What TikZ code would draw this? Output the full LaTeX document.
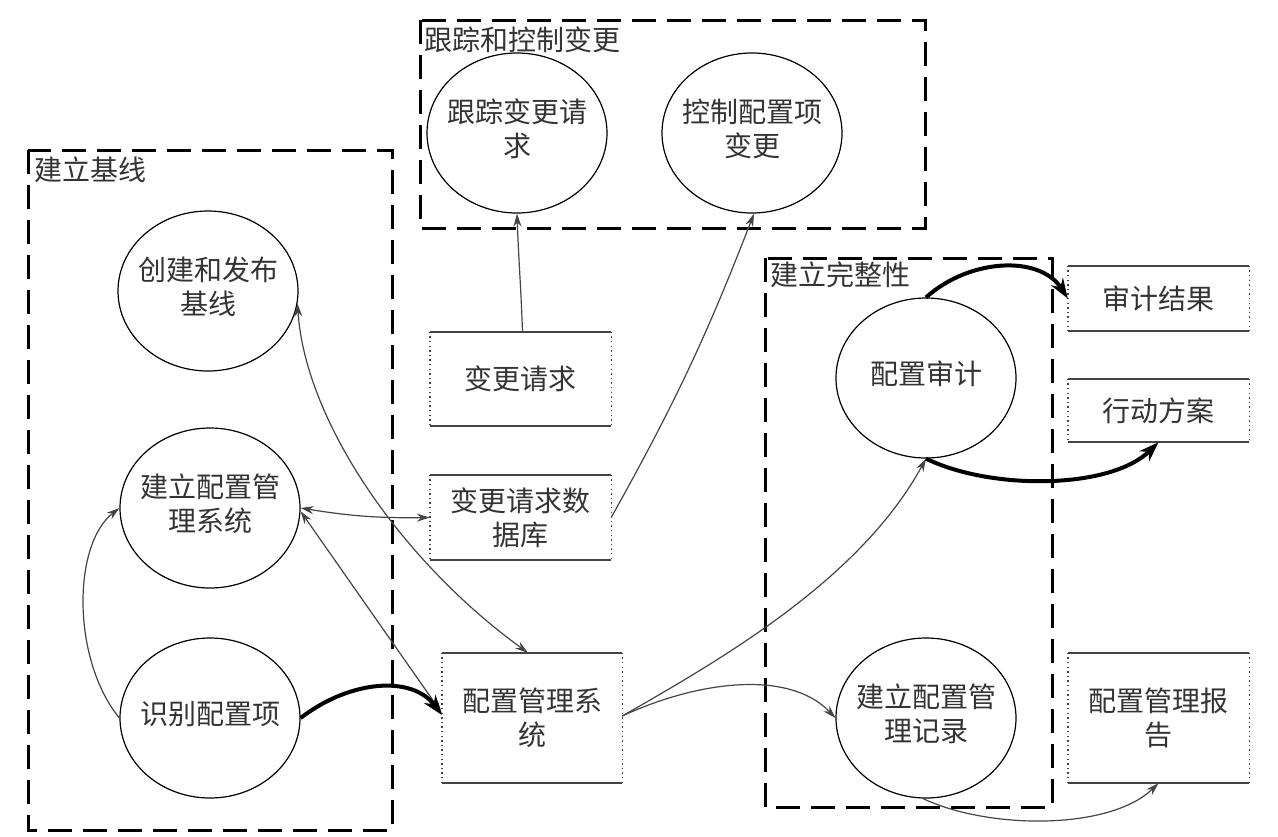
\documentclass[tikz,border=0pt]{standalone}
\usepackage{fontspec}
\newfontfamily\cjk{Noto Sans CJK SC}
\usetikzlibrary{shapes.geometric,arrows.meta}
\definecolor{txt}{HTML}{333333}
\definecolor{lgray}{HTML}{444444}
\newcommand\ctext[1]{\makebox[0pt]{\begin{tabular}{@{}c@{}}#1\end{tabular}}}
\begin{document}
\begin{tikzpicture}[x=1pt,y=1pt,
  every node/.style={font=\cjk\fontsize{28}{34}\selectfont, text=txt},
  circ/.style={ellipse, draw=black, line width=1.2pt, minimum width=180pt, minimum height=160pt, inner sep=0pt},
  dbox/.style={rectangle, inner sep=0pt, align=center},
  group/.style={draw=black, line width=3pt, dash pattern=on 24pt off 11pt},
  glabel/.style={anchor=north west, inner sep=0pt},
  edgeline/.style={draw=lgray, line width=1.8pt},
  dotline/.style={draw=lgray, line width=1.4pt, dash pattern=on 1.4pt off 3.2pt},
  conn/.style={draw=lgray, line width=1.2pt, -{Stealth[length=13pt,width=8pt]}},
  conntwo/.style={draw=lgray, line width=1.2pt, {Stealth[length=13pt,width=8pt]}-{Stealth[length=13pt,width=8pt]}},
  heavy/.style={draw=black, line width=4pt, -{Stealth[length=20pt,width=14pt]}}
]
\useasboundingbox (0,0) rectangle (1278,-836);

% groups
\draw[group] (420,-20) rectangle (925,-228);
\node[glabel] (gl1) at (424,-27) {跟踪和控制变更};
\draw[group] (28,-150) rectangle (392,-830);
\node[glabel] (gl2) at (34,-157) {建立基线};
\draw[group] (765,-258) rectangle (1052,-807);
\node[glabel] (gl3) at (770,-262) {建立完整性};

% circles
\node[circ] (trk) at (517,-133) {\ctext{跟踪变更请\\求}};
\node[circ] (ctl) at (752,-133) {\ctext{控制配置项\\变更}};
\node[circ] (cre) at (208,-291) {\ctext{创建和发布\\基线}};
\node[circ] (est) at (210,-508) {\ctext{建立配置管\\理系统}};
\node[circ] (idf) at (210,-718) {\ctext{识别配置项}};
\node[circ] (aud) at (926,-378) {\ctext{配置审计}};
\node[circ] (rec) at (926,-718) {\ctext{建立配置管\\理记录}};

% boxes
\node[dbox, minimum width=181pt, minimum height=94pt] (chg) at (520.5,-379) {变更请求};
\node[dbox, minimum width=181pt, minimum height=85pt] (db) at (520.5,-517.5) {变更请求数\\据库};
\node[dbox, minimum width=180pt, minimum height=130pt] (cms) at (532,-718) {配置管理系\\统};
\node[dbox, minimum width=181pt, minimum height=65pt] (res) at (1158.5,-298.5) {审计结果};
\node[dbox, minimum width=181pt, minimum height=63pt] (act) at (1158.5,-410.5) {行动方案};
\node[dbox, minimum width=181pt, minimum height=130pt] (rep) at (1158.5,-718) {配置管理报\\告};
\foreach \b in {chg,db,cms,res,act,rep}{
  \draw[edgeline] (\b.north west) -- (\b.north east) (\b.south west) -- (\b.south east);
  \draw[dotline] (\b.north west) -- (\b.south west) (\b.north east) -- (\b.south east);
}

% connectors
\draw[conn] ([xshift=2pt]chg.north) to[out=92,in=-88] (trk.south);
\draw[conn] (db.east) to[bend right=4] ([xshift=2pt]ctl.south);
\draw[conntwo] (cre.-8) .. controls (305,-420) and (400,-560) .. ([xshift=-4pt]cms.north);
\draw[conntwo] (est.east) to[bend right=5] (db.west);
\draw[conntwo] (est.-2) -- ([yshift=5pt]cms.west);
\draw[conn] (idf.west) .. controls (72,-660) and (72,-545) .. (est.west);
\draw[heavy] (idf.east) .. controls (350,-680) and (412,-675) .. ([yshift=3pt]cms.west);
\draw[conn] ([yshift=2pt]cms.east) .. controls (720,-660) and (860,-580) .. (aud.south);
\draw[conn] ([yshift=2pt]cms.east) .. controls (700,-680) and (790,-670) .. (rec.west);
\draw[conn] ([xshift=-3pt]rec.south) .. controls (990,-830) and (1110,-830) .. (rep.south);
\draw[heavy] (aud.north) .. controls (970,-258) and (1040,-255) .. (res.west);
\draw[heavy] (aud.south) .. controls (990,-490) and (1110,-490) .. (act.south);
\end{tikzpicture}
\end{document}
